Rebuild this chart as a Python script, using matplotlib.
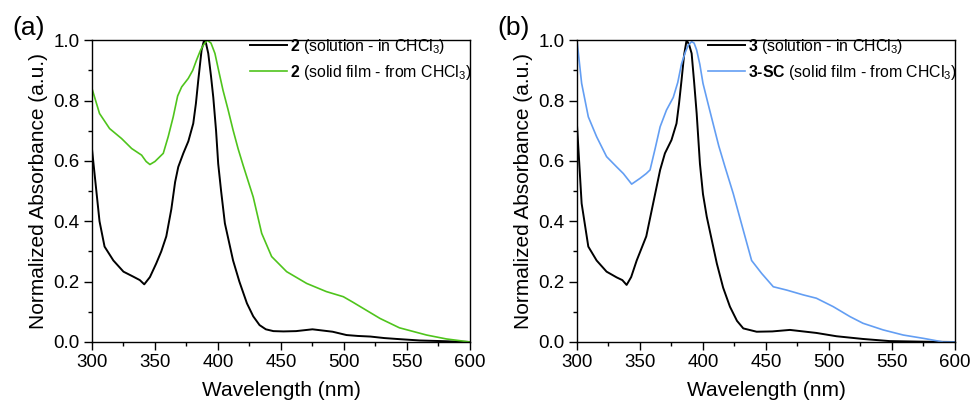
import matplotlib
matplotlib.use('Agg')
import matplotlib.pyplot as plt
from matplotlib.ticker import MultipleLocator

plt.rcParams['font.family'] = 'Liberation Sans'
plt.rcParams['mathtext.fontset'] = 'custom'
plt.rcParams['mathtext.rm'] = 'Liberation Sans'
plt.rcParams['mathtext.bf'] = 'Liberation Sans:bold'

# panel (a): compound 2
wl_2_sol = [300, 303, 306, 310, 317, 325, 333, 338, 341.5, 346, 351, 355, 359, 363, 366, 368.5, 372.5, 376.5,
            380.4, 382.5, 384.4, 387, 389, 390.5, 392.3, 394.5, 396.3, 398.5, 400.2, 402.5, 405.5, 412, 417, 423,
            428, 433, 438, 444, 452, 462, 475, 491, 502, 511, 521, 532, 542, 560, 577, 600]
ab_2_sol = [0.64, 0.52, 0.40, 0.316, 0.27, 0.233, 0.216, 0.205, 0.191, 0.215, 0.26, 0.30, 0.35, 0.44, 0.53, 0.58,
            0.625, 0.665, 0.724, 0.79, 0.868, 0.967, 1.0, 0.99, 0.956, 0.88, 0.81, 0.70, 0.59, 0.50, 0.393, 0.27,
            0.20, 0.128, 0.085, 0.056, 0.042, 0.036, 0.035, 0.036, 0.042, 0.034, 0.023, 0.02, 0.018, 0.013, 0.01,
            0.005, 0.003, 0.0]

wl_2_film = [300, 306, 314, 323.5, 331.5, 339.4, 343, 346, 350, 356.6, 360.5, 364.5, 368, 371.2, 376.4, 380,
             383, 386, 388.3, 391.5, 394.5, 397.6, 400.5, 404, 408, 412, 416, 420, 428, 434.7, 442.6, 454.5,
             470.4, 486, 499.5, 507, 515, 528.6, 544, 565.6, 581.4, 600]
ab_2_film = [0.84, 0.757, 0.707, 0.674, 0.641, 0.619, 0.598, 0.588, 0.598, 0.625, 0.68, 0.746, 0.815, 0.845,
             0.873, 0.9, 0.934, 0.965, 0.983, 1.0, 0.99, 0.956, 0.9, 0.834, 0.77, 0.702, 0.64, 0.585, 0.48, 0.36,
             0.283, 0.233, 0.194, 0.167, 0.15, 0.132, 0.112, 0.078, 0.047, 0.023, 0.01, 0.0]

# panel (b): compound 3
wl_3_sol = [300, 303.7, 309, 315.6, 323.5, 331.5, 336, 339.4, 343, 347.4, 355, 360, 366, 369.8, 375, 379, 381,
            383, 385, 387, 389, 391, 393, 395, 397.6, 400, 403, 411, 416, 421.4, 427, 432, 442.6, 455, 469, 490,
            506, 527, 548, 575, 600]
ab_3_sol = [0.72, 0.459, 0.316, 0.27, 0.233, 0.214, 0.205, 0.189, 0.215, 0.27, 0.35, 0.45, 0.57, 0.625, 0.669,
            0.724, 0.79, 0.868, 0.95, 1.0, 0.985, 0.956, 0.86, 0.757, 0.59, 0.49, 0.415, 0.26, 0.18, 0.117, 0.07,
            0.045, 0.034, 0.035, 0.04, 0.03, 0.019, 0.01, 0.003, 0.001, 0.0]

wl_3_film = [300, 303.7, 309, 315.6, 323.5, 331.5, 336.8, 343.4, 350, 355, 358, 362, 366, 371, 376.4, 380, 383,
             386, 388.3, 391, 393, 395, 397.5, 400, 404, 408, 412.5, 417.5, 424, 432, 438.6, 446.6, 455.8, 466.4,
             479.6, 490, 503.4, 516.7, 527, 543, 559, 575, 590.7, 600]
ab_3_film = [1.0, 0.857, 0.746, 0.68, 0.614, 0.58, 0.558, 0.523, 0.542, 0.558, 0.57, 0.64, 0.713, 0.768, 0.81,
             0.86, 0.922, 0.96, 0.983, 0.995, 0.99, 0.967, 0.92, 0.857, 0.79, 0.724, 0.65, 0.58, 0.492, 0.37, 0.27,
             0.227, 0.183, 0.172, 0.156, 0.145, 0.117, 0.084, 0.062, 0.04, 0.023, 0.012, 0.0, 0.0]

fig = plt.figure(figsize=(9.71, 4.03), dpi=100)
ax_a = fig.add_axes([0.0947, 0.1514, 0.3893, 0.749])
ax_b = fig.add_axes([0.5942, 0.1514, 0.3893, 0.749])

panels = [
    (ax_a, '(a)', wl_2_sol, ab_2_sol, wl_2_film, ab_2_film, '#4fc41c',
     r'$\mathbf{2}$ (solution - in CHCl$_3$)', r'$\mathbf{2}$ (solid film - from CHCl$_3$)'),
    (ax_b, '(b)', wl_3_sol, ab_3_sol, wl_3_film, ab_3_film, '#639ef3',
     r'$\mathbf{3}$ (solution - in CHCl$_3$)', '$\\mathbf{3\u2010SC}$ (solid film - from CHCl$_3$)'),
]

for ax, tag, x1, y1, x2, y2, col, lab1, lab2 in panels:
    ax.plot(x1, y1, color='black', lw=1.4, label=lab1)
    ax.plot(x2, y2, color=col, lw=1.2, label=lab2)
    ax.set_xlim(300, 600)
    ax.set_ylim(0, 1.0)
    ax.xaxis.set_major_locator(MultipleLocator(50))
    ax.xaxis.set_minor_locator(MultipleLocator(25))
    ax.yaxis.set_major_locator(MultipleLocator(0.2))
    ax.yaxis.set_minor_locator(MultipleLocator(0.1))
    ax.yaxis.set_major_formatter(plt.FormatStrFormatter('%.1f'))
    ax.tick_params(which='major', direction='out', length=6, width=1, labelsize=13.5, pad=3)
    ax.tick_params(which='minor', direction='out', length=3, width=1)
    for s in ax.spines.values():
        s.set_linewidth(1.0)
    ax.set_xlabel('Wavelength (nm)', fontsize=15, labelpad=7)
    ax.set_ylabel('Normalized Absorbance (a.u.)', fontsize=15)
    ax.legend(loc='upper right', bbox_to_anchor=(1.005, 1.012), frameon=False, fontsize=11.4,
              handlelength=2.35, handletextpad=0.2, labelspacing=0.45, borderaxespad=0, borderpad=0)
    ax.text(-0.21, 1.04, tag, transform=ax.transAxes, fontsize=19, va='center', ha='left')

fig.savefig('out.png', dpi=100)
